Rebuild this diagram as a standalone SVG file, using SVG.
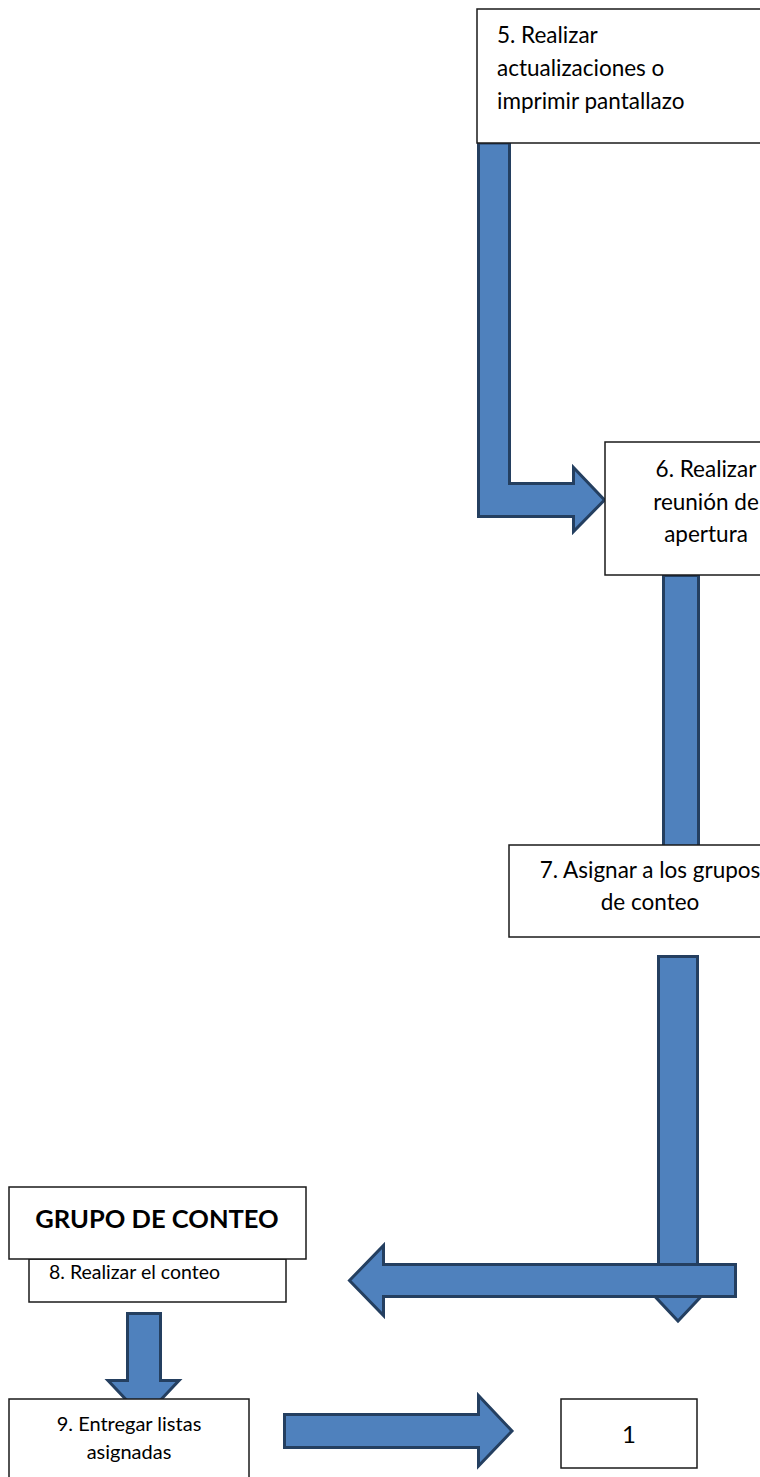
<svg xmlns="http://www.w3.org/2000/svg" width="760" height="1477" viewBox="0 0 760 1477">
<style>
.box{fill:#fff;stroke:#1a1a1a;stroke-width:1.5}
.arr{fill:#4F81BD;stroke:#243F60;stroke-width:3;stroke-linejoin:miter}
.t{font-family:Lato,"Liberation Sans",sans-serif;fill:#000}
.m{font-size:22.5px}
</style>
<rect width="760" height="1477" fill="#fff"/>
<g id="connectors">
<path class="arr" d="M478.5,143 H509.5 V483.5 H573.5 V467.5 L604.5,500 L573.5,531.5 V516.5 H478.5 Z"/>
<rect class="arr" x="663.5" y="575.5" width="35" height="272"/>
<path class="arr" d="M658.5,956.5 H697.5 V1270 H726 L678,1321 L630,1270 H658.5 Z"/>
<path class="arr" d="M735.5,1264.5 V1296.5 H383.5 V1315.5 L349.5,1280.5 L383.5,1245.5 V1264.5 Z"/>
<path class="arr" d="M127.5,1313.5 H160.5 V1380.5 H179 L143.5,1418 L108,1380.5 H127.5 Z"/>
<path class="arr" d="M284.5,1414.5 H478.5 V1395.5 L512,1431 L478.5,1466 V1447.5 H284.5 Z"/>
</g>
<g id="node5">
<rect class="box" x="477" y="9" width="320" height="134"/>
<text class="t m" x="497" y="43">5. Realizar</text>
<text class="t m" x="497" y="76">actualizaciones o</text>
<text class="t m" x="497" y="109">imprimir pantallazo</text>
</g>
<g id="node6">
<rect class="box" x="605" y="442" width="220" height="133"/>
<text class="t m" x="706" y="477" text-anchor="middle">6. Realizar</text>
<text class="t m" x="706" y="510" text-anchor="middle">reunión de</text>
<text class="t m" x="706" y="542" text-anchor="middle">apertura</text>
</g>
<g id="node7">
<rect class="box" x="509" y="845" width="300" height="92"/>
<text class="t m" x="650" y="878" text-anchor="middle">7. Asignar a los grupos</text>
<text class="t m" x="650" y="910" text-anchor="middle">de conteo</text>
</g>
<g id="node8">
<rect class="box" x="29" y="1259" width="257" height="43"/>
<text class="t" font-size="19.5" x="49" y="1279">8. Realizar el conteo</text>
</g>
<g id="grupo">
<rect class="box" x="9" y="1187" width="297" height="72"/>
<text class="t" font-size="25.5" font-weight="bold" x="157" y="1228" text-anchor="middle">GRUPO DE CONTEO</text>
</g>
<g id="node9">
<rect class="box" x="9" y="1399" width="240" height="100"/>
<text class="t" font-size="20" x="129" y="1431" text-anchor="middle">9. Entregar listas</text>
<text class="t" font-size="20" x="129" y="1459" text-anchor="middle">asignadas</text>
</g>
<g id="node1">
<rect class="box" x="561" y="1399" width="136" height="69"/>
<text class="t" font-size="24" x="629" y="1443" text-anchor="middle">1</text>
</g>
</svg>
